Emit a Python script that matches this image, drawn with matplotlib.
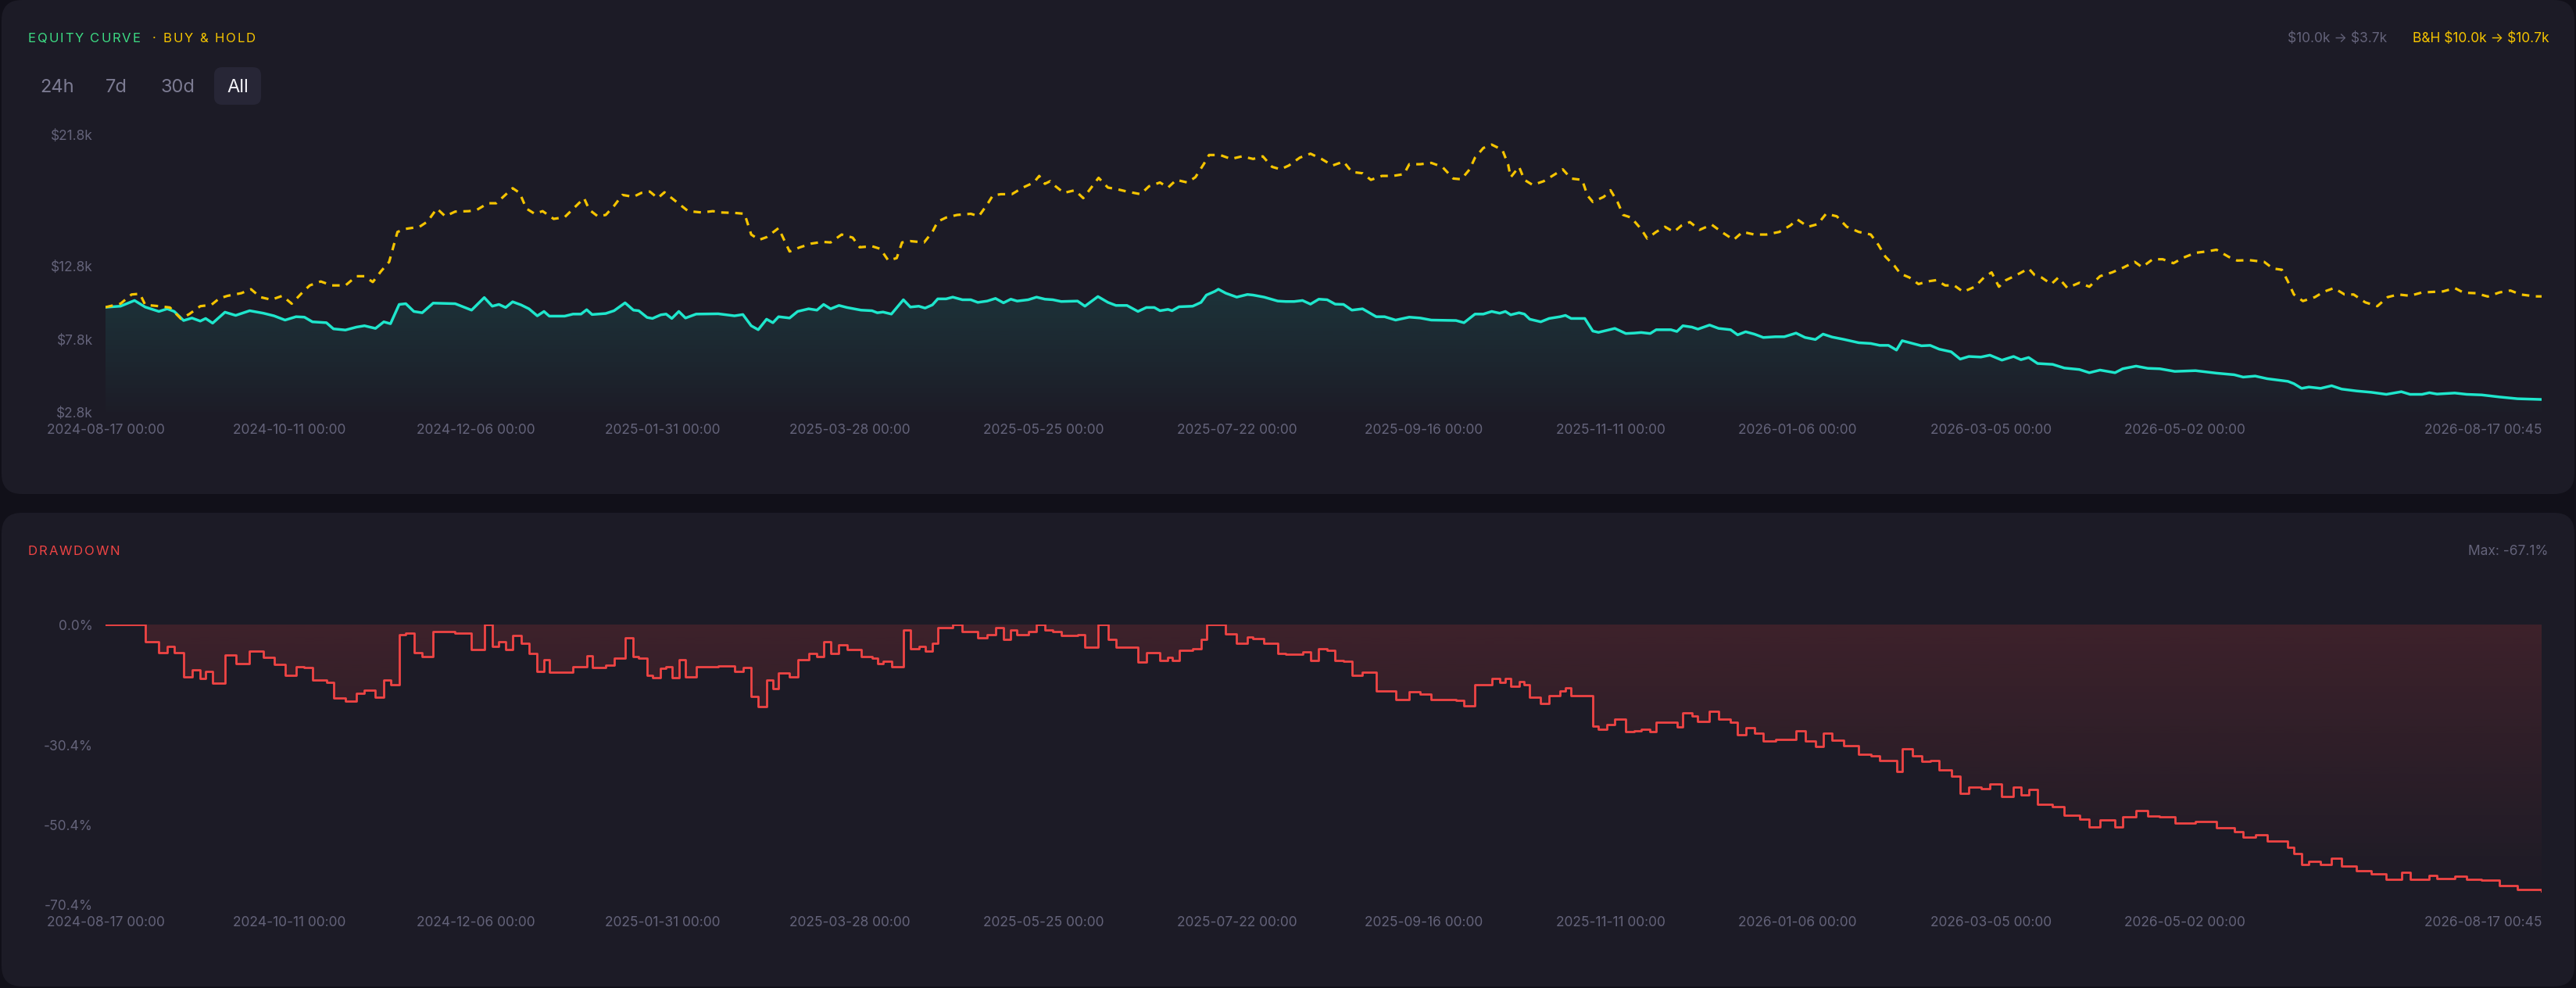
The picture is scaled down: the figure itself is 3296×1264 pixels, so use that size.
import numpy as np
import pandas as pd
import matplotlib
matplotlib.use('Agg')
import matplotlib.pyplot as plt
import matplotlib.dates as mdates
from matplotlib.colors import to_rgb
from matplotlib.patches import FancyBboxPatch

plt.rcParams['font.family'] = ['Inter', 'DejaVu Sans']
plt.rcParams['text.parse_math'] = False

START = pd.Timestamp('2024-08-17 00:00')

# strategy equity, $k, read at day offsets from START
equity_days = [
    0, 4.5, 8.7, 11.9, 16.0, 18.5, 20.6, 23.4, 25.9, 28.4, 30.0, 32.1, 35.8, 39.0, 43.2,
    47.3, 50.5, 53.8, 57.1, 59.6, 62.0, 66.2, 68.3, 71.9, 75.2, 77.6, 80.9, 83.4, 85.4,
    88.0, 90.0, 92.4, 94.9, 98.2, 104.8, 109.7, 113.5, 115.9, 117.9, 119.9, 122.0, 124.5,
    126.9, 129.4, 131.4, 133.0, 137.6, 140.1, 142.5, 144.2, 145.8, 149.9, 152.4, 155.7,
    158.2, 159.8, 162.3, 163.9, 166.4, 168.0, 169.7, 171.8, 173.8, 177.0, 183.6, 188.5,
    191.0, 193.5, 195.6, 198.1, 200.0, 201.7, 205.0, 207.4, 210.7, 213.2, 215.2, 217.3,
    219.8, 222.2, 226.4, 229.7, 231.3, 233.0, 235.5, 239.1, 241.2, 243.7, 245.6, 247.8,
    249.4, 251.9, 253.9, 256.8, 259.3, 261.4, 264.2, 266.7, 269.1, 271.3, 273.2, 276.5,
    279.0, 281.5, 283.9, 286.4, 291.3, 293.5, 297.4, 300.4, 302.8, 306.1, 309.4, 311.9,
    314.3, 316.0, 318.4, 319.6, 321.7, 325.8, 328.3, 329.9, 332.4, 333.5, 335.7, 339.0,
    342.2, 343.9, 347.2, 351.3, 353.7, 356.2, 358.7, 361.1, 363.6, 366.1, 368.5, 371.0,
    373.5, 376.7, 380.8, 383.3, 386.6, 390.7, 394.0, 397.3, 404.7, 407.1, 410.4, 412.9,
    415.4, 417.8, 419.5, 421.1, 423.6, 425.2, 426.8, 430.1, 432.6, 435.9, 437.5, 439.2,
    443.3, 445.7, 447.4, 449.8, 452.3, 455.6, 458.1, 460.2, 462.9, 464.7, 469.1, 470.9,
    472.7, 475.4, 477.2, 480.7, 483.4, 487.0, 489.1, 491.5, 494.1, 496.8, 500.4, 503.1,
    506.6, 509.3, 512.4, 514.7, 517.4, 520.9, 525.4, 529.0, 531.7, 534.3, 536.7, 538.4,
    541.5, 544.2, 546.8, 549.5, 553.1, 555.8, 558.4, 562.0, 564.7, 568.3, 571.8, 574.0,
    576.3, 579.0, 583.5, 587.0, 591.5, 594.5, 597.7, 602.2, 604.5, 608.5, 612.0, 615.6,
    620.1, 626.3, 632.6, 637.9, 640.6, 644.2, 647.8, 654.0, 655.8, 658.1, 660.3, 663.8,
    667.1, 670.1, 674.6, 679.0, 683.5, 688.0, 690.6, 694.2, 696.4, 698.7, 704.0, 707.6,
    712.1, 717.4, 722.8, 730.03,
]
equity_vals = [
    10.0, 10.07, 10.46, 10.01, 9.71, 9.89, 9.71, 9.09, 9.26, 9.05, 9.23, 8.91, 9.66, 9.44, 9.76,
    9.59, 9.41, 9.12, 9.35, 9.32, 9.0, 8.94, 8.52, 8.44, 8.64, 8.73, 8.55, 9.0, 8.87,
    10.19, 10.24, 9.71, 9.62, 10.28, 10.24, 9.8, 10.66, 10.07, 10.19, 9.98, 10.37, 10.16,
    9.89, 9.41, 9.71, 9.39, 9.39, 9.53, 9.53, 9.83, 9.5, 9.57, 9.76, 10.3,
    9.8, 9.76, 9.3, 9.23, 9.48, 9.53, 9.23, 9.71, 9.26, 9.53, 9.55, 9.41,
    9.5, 8.73, 8.46, 9.18, 8.94, 9.35, 9.26, 9.71, 9.89, 9.8, 10.19, 9.89,
    10.12, 9.98, 9.8, 9.76, 9.62, 9.67, 9.53, 10.51, 10.01, 10.07, 9.94, 10.16,
    10.57, 10.57, 10.69, 10.51, 10.51, 10.33, 10.42, 10.6, 10.3, 10.55, 10.42, 10.51,
    10.69, 10.55, 10.51, 10.39, 10.42, 10.07, 10.73, 10.33, 10.12, 10.12, 9.71, 9.98,
    9.98, 9.76, 9.85, 9.76, 10.03, 10.07, 10.33, 10.83, 11.08, 11.23, 10.96, 10.69,
    10.87, 10.83, 10.69, 10.42, 10.39, 10.39, 10.46, 10.21, 10.55, 10.51, 10.21, 10.19,
    9.8, 9.89, 9.35, 9.35, 9.12, 9.32, 9.26, 9.12, 9.09, 8.94, 9.53, 9.53,
    9.71, 9.59, 9.71, 9.48, 9.62, 9.53, 9.18, 9.0, 9.23, 9.35, 9.44, 9.23,
    9.23, 8.37, 8.28, 8.41, 8.55, 8.2, 8.23, 8.27, 8.2, 8.46, 8.46, 8.34,
    8.73, 8.64, 8.5, 8.78, 8.55, 8.46, 8.11, 8.32, 8.16, 7.93, 7.98, 7.98,
    8.23, 7.93, 7.79, 8.16, 7.96, 7.8, 7.57, 7.52, 7.39, 7.39, 7.07, 7.71,
    7.52, 7.36, 7.39, 7.13, 6.95, 6.45, 6.63, 6.59, 6.72, 6.38, 6.63, 6.41,
    6.56, 6.15, 6.09, 5.84, 5.74, 5.52, 5.7, 5.52, 5.79, 5.97, 5.82, 5.79,
    5.61, 5.66, 5.49, 5.38, 5.22, 5.29, 5.11, 4.93, 4.77, 4.45, 4.54, 4.45,
    4.63, 4.4, 4.27, 4.18, 4.04, 4.22, 4.04, 4.04, 4.15, 4.06, 4.13, 4.04,
    4.0, 3.86, 3.74, 3.69,
]

# buy & hold, $k
bh_days = [
    0, 4.5, 7.8, 10.3, 11.9, 16.0, 19.3, 22.6, 25.1, 28.4, 31.7, 34.1, 36.6, 40.7, 43.6,
    46.4, 49.7, 53.0, 55.8, 58.8, 61.2, 64.5, 67.8, 71.9, 75.2, 77.6, 80.1, 82.6, 85.0,
    87.5, 90.0, 94.1, 96.5, 99.3, 101.8, 104.8, 108.9, 111.3, 114.6, 117.1, 122.0, 124.1,
    126.1, 128.6, 131.0, 134.3, 137.6, 140.1, 143.4, 145.0, 147.5, 149.9, 152.4, 154.9,
    158.2, 160.6, 163.1, 165.5, 167.5, 169.7, 172.1, 174.6, 178.7, 182.0, 184.4, 188.5,
    191.5, 193.5, 195.9, 198.1, 201.7, 205.0, 207.9, 211.5, 214.8, 217.3, 220.6, 223.9,
    226.0, 229.7, 232.2, 234.6, 237.1, 238.7, 241.2, 245.3, 247.8, 249.4, 251.9, 255.2,
    259.3, 261.7, 264.2, 265.9, 268.3, 271.6, 274.9, 278.2, 279.8, 281.5, 283.1, 284.7,
    287.2, 290.5, 293.0, 295.4, 297.6, 300.4, 302.8, 306.1, 310.2, 312.7, 316.0, 318.4,
    320.9, 324.2, 326.6, 329.1, 330.7, 334.0, 337.3, 340.6, 343.9, 346.8, 349.6, 352.1,
    354.6, 357.9, 361.1, 364.4, 367.7, 371.0, 373.5, 376.7, 379.2, 382.5, 385.8, 389.1,
    390.7, 394.0, 397.3, 400.6, 403.9, 406.3, 408.8, 410.4, 412.9, 415.4, 418.6, 420.3,
    421.1, 423.6, 425.2, 427.7, 431.0, 434.2, 436.7, 439.2, 442.5, 444.1, 445.7, 449.0,
    451.0, 453.1, 454.8, 457.2, 460.2, 462.0, 464.7, 467.3, 470.0, 472.3, 474.8, 477.7,
    481.3, 484.3, 487.9, 490.6, 494.1, 497.7, 501.6, 504.9, 507.0, 510.2, 513.1, 515.6,
    518.8, 521.8, 525.4, 529.0, 531.3, 533.4, 536.1, 537.9, 540.6, 543.3, 545.9, 548.6,
    551.3, 554.0, 556.7, 560.2, 562.9, 565.2, 567.4, 569.5, 572.7, 576.3, 578.1, 580.2,
    583.1, 585.2, 587.9, 591.5, 594.5, 597.7, 601.3, 604.5, 608.1, 610.3, 613.5, 616.5,
    619.7, 622.8, 626.3, 629.6, 632.6, 636.2, 638.8, 642.4, 646.9, 649.5, 652.2, 654.0,
    655.8, 658.5, 662.1, 664.7, 667.8, 671.0, 673.7, 677.2, 680.8, 683.9, 687.1, 690.6,
    694.2, 697.8, 700.5, 704.0, 706.7, 710.3, 713.9, 717.4, 720.7, 723.7, 728.2, 730.03,
]
bh_vals = [
    10.0, 10.24, 10.87, 10.92, 10.16, 10.07, 9.98, 9.21, 9.53, 10.07, 10.16, 10.6, 10.78, 10.96, 11.23,
    10.69, 10.51, 10.78, 10.24, 10.96, 11.49, 11.76, 11.49, 11.49, 12.12, 12.12, 11.72, 12.47, 13.1,
    15.15, 15.36, 15.5, 15.86, 16.75, 16.22, 16.54, 16.57, 16.66, 17.11, 17.11, 18.14, 17.82,
    16.75, 16.39, 16.57, 16.04, 16.16, 16.72, 17.46, 16.66, 16.22, 16.31, 16.93, 17.68,
    17.55, 17.82, 17.91, 17.46, 17.86, 17.46, 17.02, 16.57, 16.48, 16.57, 16.48, 16.45,
    16.39, 14.97, 14.61, 14.79, 15.41, 13.81, 14.08, 14.35, 14.47, 14.43, 14.97, 14.76,
    14.1, 14.17, 13.99, 13.19, 13.36, 14.43, 14.52, 14.43, 15.15, 15.86, 16.13, 16.31,
    16.39, 16.22, 17.02, 17.64, 17.73, 17.73, 18.18, 18.53, 18.98, 18.44, 18.62, 18.27,
    17.82, 18.0, 17.46, 18.18, 18.85, 18.18, 18.09, 17.91, 17.73, 18.27, 18.53, 18.18,
    18.71, 18.53, 18.89, 19.78, 20.41, 20.41, 20.14, 20.32, 20.14, 20.32, 19.6, 19.43,
    19.69, 20.23, 20.5, 20.14, 19.69, 19.96, 19.25, 19.16, 18.71, 18.98, 18.98, 19.1,
    19.78, 19.78, 19.87, 19.6, 18.8, 18.75, 19.43, 20.23, 20.89, 21.12, 20.76, 19.78,
    18.89, 19.6, 18.71, 18.36, 18.62, 19.07, 19.43, 18.8, 18.71, 17.64, 17.2, 17.55,
    18.0, 17.2, 16.31, 16.13, 15.34, 14.7, 15.15, 15.5, 15.15, 15.59, 15.82, 15.29,
    15.65, 15.15, 14.61, 15.15, 14.97, 14.97, 15.15, 15.59, 16.0, 15.5, 15.68, 16.39,
    16.22, 15.5, 15.15, 14.97, 14.26, 13.45, 12.83, 12.29, 12.03, 11.58, 11.76, 11.85,
    11.49, 11.49, 11.05, 11.4, 12.03, 12.38, 11.4, 11.85, 12.2, 12.65, 12.2, 12.03,
    11.58, 12.03, 11.32, 11.67, 11.4, 12.12, 12.38, 12.69, 13.1, 12.74, 13.28, 13.28,
    13.01, 13.4, 13.72, 13.81, 13.93, 13.45, 13.19, 13.22, 13.1, 12.65, 12.56, 11.76,
    10.87, 10.42, 10.69, 11.05, 11.31, 10.87, 10.87, 10.33, 10.07, 10.69, 10.87, 10.78,
    11.01, 11.05, 11.08, 11.31, 10.99, 10.96, 10.73, 11.01, 11.14, 10.87, 10.74, 10.74,
]

x_tick_labels = [
    '2024-08-17 00:00', '2024-10-11 00:00', '2024-12-06 00:00', '2025-01-31 00:00',
    '2025-03-28 00:00', '2025-05-25 00:00', '2025-07-22 00:00', '2025-09-16 00:00',
    '2025-11-11 00:00', '2026-01-06 00:00', '2026-03-05 00:00', '2026-05-02 00:00',
    '2026-08-17 00:45',
]
equity_ticks = [2.8, 7.8, 12.8, 21.8]
dd_ticks = [0.0, -30.4, -50.4, -70.4]
ranges = ['24h', '7d', '30d', 'All']

BG = '#111019'
CARD = '#1c1b26'
CYAN = '#1fe6cc'
GOLD = '#f5c400'
RED = '#ef4444'
GREEN = '#3ddc84'
MUTED = '#64637a'

W, H = 3296, 1264


def to_num(days):
    return mdates.date2num(START + pd.to_timedelta(np.asarray(days), unit='D'))


def px_axes(left, top, right, bottom):
    return fig.add_axes([left / W, 1 - bottom / H, (right - left) / W, (bottom - top) / H])


def gradient_fill(ax, x, y, base, color, a_top, a_bot, y_top, y_bot, step=None):
    poly = ax.fill_between(x, y, base, step=step, facecolor='none', edgecolor='none')
    grad = np.zeros((256, 1, 4))
    grad[..., :3] = to_rgb(color)
    grad[:, 0, 3] = np.linspace(a_top, a_bot, 256)
    im = ax.imshow(grad, extent=[x[0], x[-1], y_bot, y_top], origin='upper',
                   aspect='auto', interpolation='bilinear', zorder=1)
    im.set_clip_path(poly.get_paths()[0], transform=ax.transData)


def spaced_text(ax, x, y, s, spacing, **kw):
    r = fig.canvas.get_renderer()
    for ch in s:
        if ch == ' ':
            x += kw.get('fontsize', 12) * 0.3 * 100 / 72 + spacing
            continue
        t = ax.text(x, y, ch, ha='left', va='baseline', **kw)
        x += t.get_window_extent(renderer=r).width + spacing
    return x


def style_axes(ax):
    ax.set_facecolor('none')
    for s in ax.spines.values():
        s.set_visible(False)
    ax.tick_params(length=0, colors=MUTED, labelsize=12.5)
    ax.tick_params(axis='y', pad=11.5)
    ax.tick_params(axis='x', pad=10.5)


fig = plt.figure(figsize=(W / 100, H / 100), dpi=100, facecolor=BG)

bg = fig.add_axes([0, 0, 1, 1])
bg.set_xlim(0, W)
bg.set_ylim(H, 0)
bg.axis('off')
bg.add_patch(FancyBboxPatch((2, 0), W - 4, 632, boxstyle='round,pad=0,rounding_size=26',
                            fc=CARD, ec='none'))
bg.add_patch(FancyBboxPatch((2, 656), W - 4, 606, boxstyle='round,pad=0,rounding_size=26',
                            fc=CARD, ec='none'))

eq = np.array(equity_vals)
bh = np.array(bh_vals)
x_eq = to_num(equity_days)
x_bh = to_num(bh_days)
dd = (eq / np.maximum.accumulate(eq) - 1) * 100

# header texts
nx = spaced_text(bg, 36, 54, 'EQUITY CURVE', 1.8, color=GREEN, fontsize=12)
spaced_text(bg, nx + 14, 54, '· BUY & HOLD', 1.8, color=GOLD, fontsize=12)
bg.text(3262, 54, f'B&H ${bh[0]:.1f}k → ${bh[-1]:.1f}k', color=GOLD, fontsize=12.5,
        ha='right', va='baseline')
bg.text(3054, 54, f'${eq[0]:.1f}k → ${eq[-1]:.1f}k', color=MUTED, fontsize=12.5,
        ha='right', va='baseline')

bg.add_patch(FancyBboxPatch((274, 86), 60, 48, boxstyle='round,pad=0,rounding_size=10',
                            fc='#272636', ec='none'))
for lab, cx in zip(ranges, [73, 149, 227, 304]):
    bg.text(cx, 118, lab, ha='center', va='baseline', fontsize=17,
            color='#f2f2f7' if lab == 'All' else '#7c7b92')

spaced_text(bg, 36, 710, 'DRAWDOWN', 1.8, color=RED, fontsize=12)
bg.text(3261, 710, f'Max: {dd.min():.1f}%', color=MUTED, fontsize=12.5,
        ha='right', va='baseline')

tick_pos = to_num([(pd.Timestamp(t) - START) / pd.Timedelta(days=1) for t in x_tick_labels])

# equity panel
ax1 = px_axes(135, 172.3, 3252, 527.7)
style_axes(ax1)
gradient_fill(ax1, x_eq, eq, equity_ticks[0], CYAN, 0.12, 0.01, eq.max(), equity_ticks[0])
ax1.plot(x_eq, eq, color=CYAN, lw=2.5, solid_joinstyle='round', zorder=3)
ax1.plot(x_bh, bh, color=GOLD, lw=2.3, ls=(0, (3.0, 2.6)), zorder=4)
ax1.set_xlim(x_eq[0], x_eq[-1])
ax1.set_ylim(equity_ticks[0], equity_ticks[-1])
ax1.set_yticks(equity_ticks, [f'${v:.1f}k' for v in equity_ticks])
ax1.set_xticks(tick_pos, x_tick_labels)
ax1.get_xticklabels()[-1].set_ha('right')

# drawdown panel
ax2 = px_axes(135, 799, 3252, 1157)
style_axes(ax2)
gradient_fill(ax2, x_eq, dd, 0, RED, 0.16, 0.0, 0, dd_ticks[-1], step='post')
ax2.plot(x_eq, dd, color=RED, lw=2.0, drawstyle='steps-post', zorder=3)
ax2.set_xlim(x_eq[0], x_eq[-1])
ax2.set_ylim(dd_ticks[-1], 0)
ax2.set_yticks(dd_ticks, [f'{v:.1f}%' for v in dd_ticks])
ax2.set_xticks(tick_pos, x_tick_labels)
ax2.get_xticklabels()[-1].set_ha('right')

fig.savefig('out.png', dpi=100, facecolor=BG)
